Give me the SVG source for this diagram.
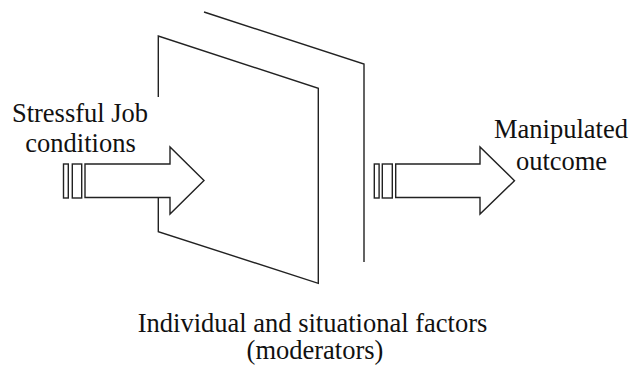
<svg xmlns="http://www.w3.org/2000/svg" width="632" height="368" viewBox="0 0 632 368">
<style>
.ln{fill:none;stroke:#222;stroke-width:1.4;stroke-linejoin:miter}
.sh{fill:#fff;stroke:#222;stroke-width:1.4;stroke-linejoin:miter}
.tx{font-family:'Liberation Serif', 'DejaVu Serif', serif;font-size:26.5px;fill:#111;text-anchor:middle}
</style>
<rect width="632" height="368" fill="#fff"/>
<g id="back-panel">
<polyline class="ln" points="204,12 364,64 364,262"/>
</g>
<g id="front-panel">
<polyline class="ln" points="158.3,97 158.3,36 318.3,88.3 318.3,283.3 158.3,231.7 158.3,197"/>
</g>
<g id="connectors">
<g id="input-arrow">
<rect class="sh" x="63.5" y="164" width="4.8" height="34"/>
<rect class="sh" x="72.3" y="164" width="9.4" height="34"/>
<path class="sh" d="M85,164 H170 V147 L204,180.5 L170,214 V197.5 H85 Z"/>
</g>
<g id="output-arrow">
<rect class="sh" x="374.3" y="164" width="4.8" height="34"/>
<rect class="sh" x="382.3" y="164" width="10" height="34"/>
<path class="sh" d="M395.7,164 H480 V147 L514.5,180.7 L480,214 V197.5 H395.7 Z"/>
</g>
</g>
<g id="label-input">
<text class="tx" font-family="Liberation Serif, serif" x="80" y="121.5">Stressful Job</text>
<text class="tx" font-family="Liberation Serif, serif" x="80.5" y="152">conditions</text>
</g>
<g id="label-output">
<text class="tx" font-family="Liberation Serif, serif" x="561" y="138.3">Manipulated</text>
<text class="tx" font-family="Liberation Serif, serif" x="561.5" y="170">outcome</text>
</g>
<g id="label-moderators">
<text class="tx" font-family="Liberation Serif, serif" x="312.5" y="331.5">Individual and situational factors</text>
<text class="tx" font-family="Liberation Serif, serif" x="315" y="359">(moderators)</text>
</g>
</svg>
